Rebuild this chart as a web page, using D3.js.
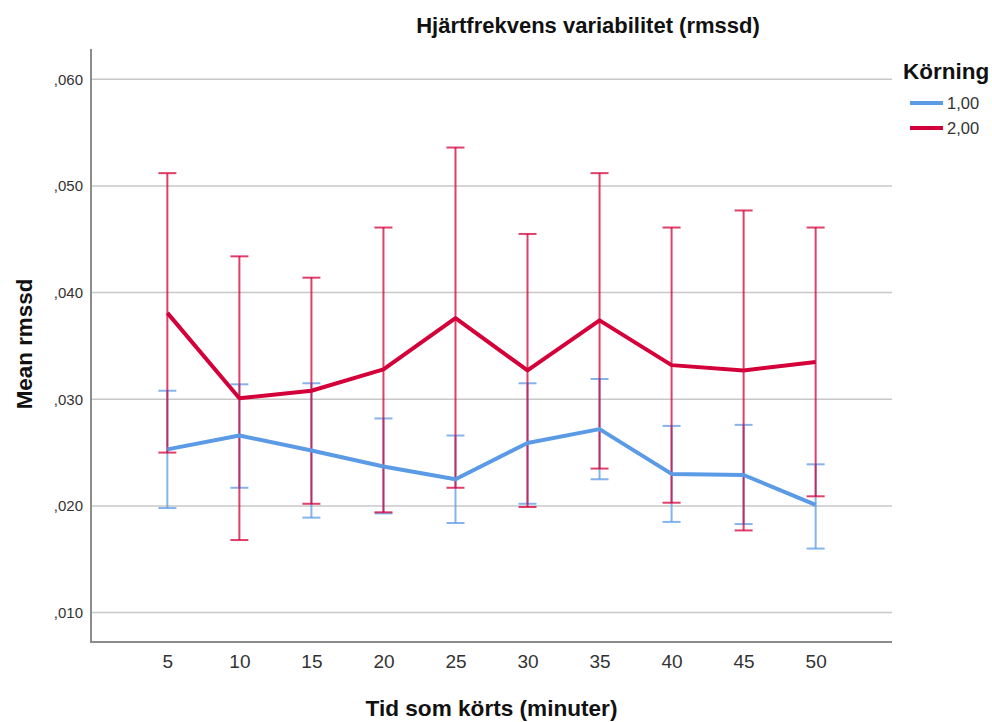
<!DOCTYPE html>
<html>
<head>
<meta charset="utf-8">
<script src="https://cdn.jsdelivr.net/npm/d3@7"></script>
<style>
  body { margin: 0; background: #fff; }
  svg { display: block; font-family: "Liberation Sans", Arial, sans-serif; }
</style>
</head>
<body>
<svg id="chart"></svg>
<script>
// Tid som körts (minuter)
const times = [5, 10, 15, 20, 25, 30, 35, 40, 45, 50];

// Körning 1,00
const mean1 = [0.0253, 0.0266, 0.0252, 0.0237, 0.0225, 0.0259, 0.0272, 0.0230, 0.0229, 0.0201];
const low1  = [0.0198, 0.0217, 0.0189, 0.0193, 0.0184, 0.0202, 0.0225, 0.0185, 0.0183, 0.0160];
const high1 = [0.0308, 0.0314, 0.0315, 0.0282, 0.0266, 0.0315, 0.0319, 0.0275, 0.0276, 0.0239];

// Körning 2,00
const mean2 = [0.0381, 0.0301, 0.0308, 0.0328, 0.0376, 0.0327, 0.0374, 0.0332, 0.0327, 0.0335];
const low2  = [0.0250, 0.0168, 0.0202, 0.0194, 0.0217, 0.0199, 0.0235, 0.0203, 0.0177, 0.0209];
const high2 = [0.0512, 0.0434, 0.0414, 0.0461, 0.0536, 0.0455, 0.0512, 0.0461, 0.0477, 0.0461];

const yTicks = [0.010, 0.020, 0.030, 0.040, 0.050, 0.060];
const seriesNames = ["1,00", "2,00"];

const width = 992, height = 722;
const plotL = 91, plotR = 892, plotT = 49, plotB = 642;

const svg = d3.select("#chart").attr("width", width).attr("height", height);

const x = d3.scalePoint().domain(times).range([plotL, plotR]).padding(1.06);
const y = d3.scaleLinear().domain([0.00724, 0.06284]).range([plotB, plotT]);

const fmt = v => d3.format(".3f")(v).replace("0.", ",");

// rutnät
svg.append("g")
  .selectAll("line")
  .data(yTicks)
  .join("line")
  .attr("x1", plotL).attr("x2", plotR)
  .attr("y1", d => y(d)).attr("y2", d => y(d))
  .attr("stroke", "#c8c8c8").attr("stroke-width", 1.5);

// y-axel
const yAxis = svg.append("g")
  .attr("transform", `translate(${plotL},0)`)
  .call(d3.axisLeft(y).tickValues(yTicks).tickFormat(fmt).tickSize(0).tickPadding(8));
yAxis.select(".domain").remove();
yAxis.selectAll("text").attr("font-size", 15).attr("fill", "#333");

// x-axel
const xAxis = svg.append("g")
  .attr("transform", `translate(0,${plotB})`)
  .call(d3.axisBottom(x).tickSize(0).tickPadding(13));
xAxis.select(".domain").remove();
xAxis.selectAll("text").attr("font-size", 19).attr("fill", "#333");

// axellinjer
svg.append("path")
  .attr("d", `M${plotL},${plotT}V${plotB}H${plotR}`)
  .attr("fill", "none").attr("stroke", "#8c8c8c").attr("stroke-width", 2);

const series = [
  { name: seriesNames[0], mean: mean1, low: low1, high: high1, color: "#5b9be6" },
  { name: seriesNames[1], mean: mean2, low: low2, high: high2, color: "#d4003a" }
];

const cap = 9;
const line = d3.line().x((d, i) => x(times[i])).y(d => y(d));

series.forEach(s => {
  const bars = svg.append("g").selectAll("g")
    .data(times)
    .join("g")
    .attr("stroke", s.color)
    .attr("stroke-opacity", 0.75)
    .attr("stroke-width", 2);
  bars.append("line")
    .attr("x1", d => x(d)).attr("x2", d => x(d))
    .attr("y1", (d, i) => y(s.low[i])).attr("y2", (d, i) => y(s.high[i]));
  bars.append("line")
    .attr("x1", d => x(d) - cap).attr("x2", d => x(d) + cap)
    .attr("y1", (d, i) => y(s.high[i])).attr("y2", (d, i) => y(s.high[i]));
  bars.append("line")
    .attr("x1", d => x(d) - cap).attr("x2", d => x(d) + cap)
    .attr("y1", (d, i) => y(s.low[i])).attr("y2", (d, i) => y(s.low[i]));
});

series.forEach(s => {
  svg.append("path")
    .datum(s.mean)
    .attr("d", line)
    .attr("fill", "none")
    .attr("stroke", s.color)
    .attr("stroke-width", 4)
    .attr("stroke-linejoin", "round");
});

// titel
svg.append("text")
  .attr("x", 588).attr("y", 33)
  .attr("text-anchor", "middle")
  .attr("font-size", 22).attr("font-weight", "bold").attr("fill", "#111")
  .text("Hjärtfrekvens variabilitet (rmssd)");

svg.append("text")
  .attr("x", (plotL + plotR) / 2).attr("y", 716)
  .attr("text-anchor", "middle")
  .attr("font-size", 22.6).attr("font-weight", "bold").attr("fill", "#111")
  .text("Tid som körts (minuter)");

svg.append("text")
  .attr("transform", `translate(32,344) rotate(-90)`)
  .attr("text-anchor", "middle")
  .attr("font-size", 22.4).attr("font-weight", "bold").attr("fill", "#111")
  .text("Mean rmssd");

// legend
const legend = svg.append("g");
legend.append("text")
  .attr("x", 903).attr("y", 79)
  .attr("font-size", 22.5).attr("font-weight", "bold").attr("fill", "#111")
  .text("Körning");
const items = legend.selectAll("g")
  .data(series)
  .join("g")
  .attr("transform", (d, i) => `translate(910,${103 + i * 25})`);
items.append("line")
  .attr("x1", 0).attr("x2", 33)
  .attr("stroke", d => d.color).attr("stroke-width", 4);
items.append("text")
  .attr("x", 37).attr("y", 6)
  .attr("font-size", 16.5).attr("fill", "#333")
  .text(d => d.name);
</script>
</body>
</html>
